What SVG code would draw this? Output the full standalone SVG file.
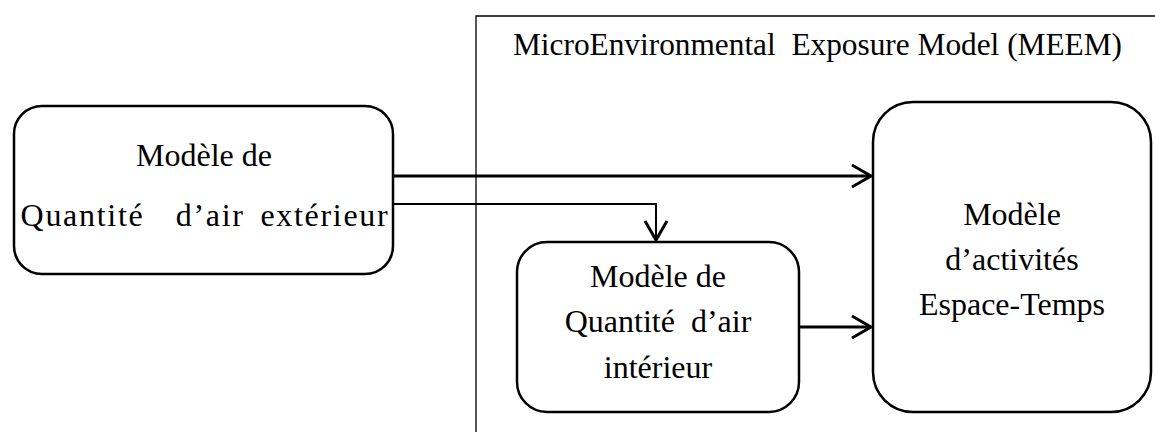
<svg xmlns="http://www.w3.org/2000/svg" width="1155" height="432" viewBox="0 0 1155 432">
<style>
.box{fill:#fff;stroke:#000;stroke-width:2.5}
.frame{fill:none;stroke:#000;stroke-width:1.3}
.t{font-family:"Liberation Serif","Times New Roman",serif;font-size:32px;fill:#000}
.c{text-anchor:middle}
.wide{letter-spacing:1.7px;word-spacing:6px}
.ln{fill:none;stroke:#000}
</style>
<defs>
<marker id="ah" markerWidth="24" markerHeight="26" viewBox="0 0 24 26" refX="21" refY="13" orient="auto" markerUnits="userSpaceOnUse">
<path d="M2,2 L21,13 L2,24" fill="none" stroke="#000" stroke-width="3"/>
</marker>
</defs>
<rect x="0" y="0" width="1155" height="432" fill="#fff"/>
<g id="meem-frame">
<path class="frame" d="M476,432 V16 H1155"/>
<text class="t" x="513" y="55" textLength="609" lengthAdjust="spacingAndGlyphs" xml:space="preserve">MicroEnvironmental  Exposure Model (MEEM)</text>
</g>
<g id="outdoor">
<rect class="box" x="14" y="106" width="379" height="168" rx="28"/>
<text class="t c" x="204" y="166">Modèle de</text>
<text class="t c wide" x="205" y="226" xml:space="preserve">Quantité  d’air extérieur</text>
</g>
<g id="indoor">
<rect class="box" x="517" y="242" width="282" height="170" rx="30"/>
<text class="t c" x="658" y="287">Modèle de</text>
<text class="t c" x="658" y="332" xml:space="preserve">Quantité  d’air</text>
<text class="t c" x="658" y="378">intérieur</text>
</g>
<g id="activity">
<rect class="box" x="873" y="102" width="278" height="310" rx="40"/>
<text class="t c" x="1012" y="225">Modèle</text>
<text class="t c" x="1012" y="270">d’activités</text>
<text class="t c" x="1012" y="315">Espace-Temps</text>
</g>
<g id="connectors">
<path class="ln" d="M393,176 H871" stroke-width="3" marker-end="url(#ah)"/>
<path class="ln" d="M393,204 H656 V240" stroke-width="2" marker-end="url(#ah)"/>
<path class="ln" d="M799,327 H871" stroke-width="3" marker-end="url(#ah)"/>
</g>
</svg>
